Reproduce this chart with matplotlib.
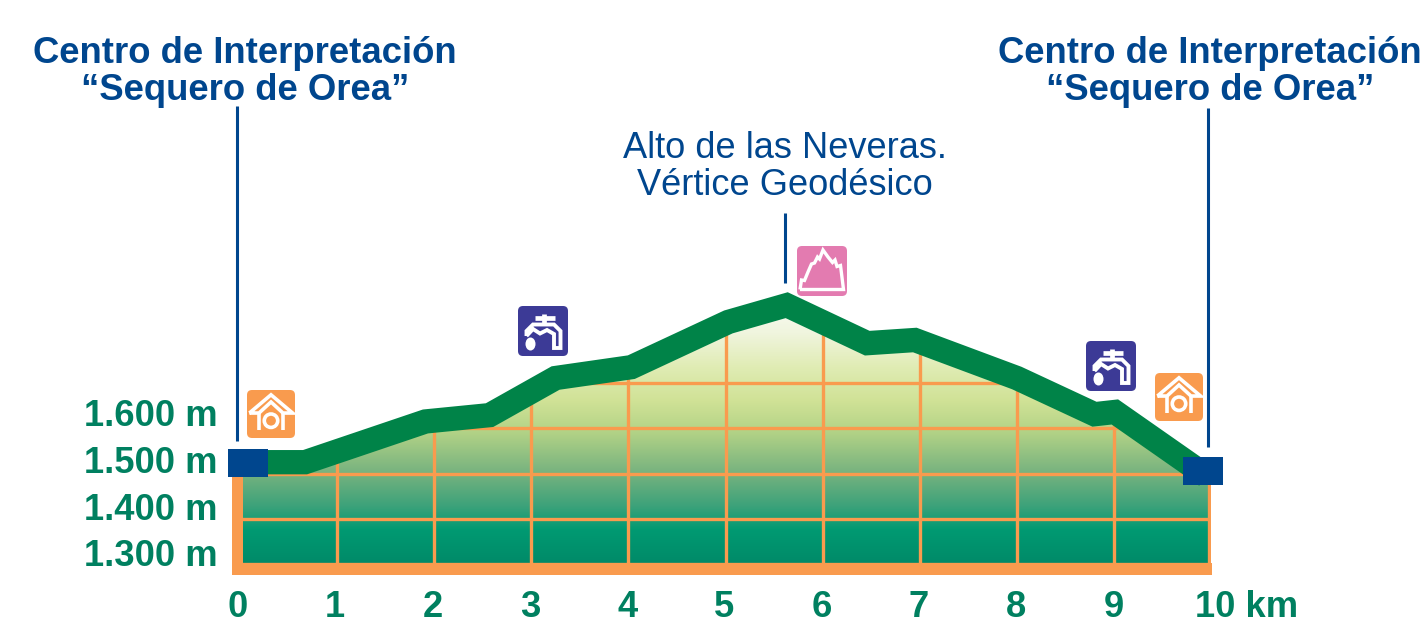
import numpy as np
import matplotlib
matplotlib.use("Agg")
import matplotlib.pyplot as plt
from matplotlib.colors import LinearSegmentedColormap
from matplotlib.patches import Circle, Ellipse, FancyBboxPatch, Polygon, Rectangle

plt.rcParams["font.family"] = ["Liberation Sans", "DejaVu Sans"]

# profile
profile_km = [0.0, 0.67, 1.91, 2.57, 3.25, 4.03, 5.03, 5.63, 6.46, 6.95, 8.0, 8.8, 9.01, 9.95]
profile_m = [1525, 1525, 1615, 1629, 1711, 1735, 1835, 1872, 1788, 1795, 1711, 1631, 1636, 1495]

km_ticks = [0, 1, 2, 3, 4, 5, 6, 7, 8, 9]
km_labels = ["0", "1", "2", "3", "4", "5", "6", "7", "8", "9"]
m_grid = [1300, 1400, 1500, 1600, 1700]
m_ticks = [1300, 1400, 1500, 1600]
m_labels = ["1.300 m", "1.400 m", "1.500 m", "1.600 m"]

start_name = "Centro de Interpretación\n“Sequero de Orea”"
peak_name = "Alto de las Neveras.\nVértice Geodésico"

BLUE = "#00468E"
GREEN = "#008348"
LABEL_GREEN = "#008060"
ORANGE = "#F99B4E"
VIOLET = "#3C3A96"
PINK = "#E37BB0"

PX_PER_KM = 97.1
PX_PER_M = 0.4525
X0, Y0 = 240, 564  # pixel of km 0 / 1300 m

fig = plt.figure(figsize=(14.28, 6.24), dpi=100)
ax = fig.add_axes([0, 0, 1, 1])
ax.set_axis_off()

# area under the profile, gradient clipped to it
area = list(zip(profile_km, profile_m)) + [(10, profile_m[-1]), (10, 1300), (0, 1300)]
clip = Polygon(area, transform=ax.transData, fc="none", ec="none")
ax.add_patch(clip)

stops = [
    (0.00, "#008A68"),
    (0.13, "#009A72"),
    (0.22, "#3DA27A"),
    (0.35, "#78B37F"),
    (0.50, "#B2D286"),
    (0.62, "#D0E296"),
    (0.75, "#E0ECB4"),
    (0.88, "#F0F5DE"),
    (1.00, "#FBFCF5"),
]
cmap = LinearSegmentedColormap.from_list("relief", stops)
im = ax.imshow(np.linspace(0, 1, 256).reshape(-1, 1), cmap=cmap, origin="lower", aspect="auto",
               extent=(0, 10, 1300, 1880), zorder=1)
im.set_clip_path(clip)

for km in km_ticks[1:] + [9.98]:
    ln = ax.plot([km, km], [1300, 1900], color=ORANGE, lw=2.4, zorder=2, solid_capstyle="butt")[0]
    ln.set_clip_path(clip)
for m in m_grid:
    ln = ax.plot([0, 10], [m, m], color=ORANGE, lw=2.4, zorder=2, solid_capstyle="butt")[0]
    ln.set_clip_path(clip)

ax.plot(profile_km, profile_m, color=GREEN, lw=17.5, zorder=3,
        solid_joinstyle="miter", solid_capstyle="butt")

ax.set_xlim(-X0 / PX_PER_KM, (1428 - X0) / PX_PER_KM)
ax.set_ylim(1300 - (624 - Y0) / PX_PER_M, 1300 + Y0 / PX_PER_M)

# overlay in pixels for the labels and pictograms
ov = fig.add_axes([0, 0, 1, 1])
ov.set_axis_off()
ov.set_xlim(0, 1428)
ov.set_ylim(624, 0)

# frame
ov.add_patch(Rectangle((232, 474), 11, 101, fc=ORANGE, ec="none", zorder=2))
ov.add_patch(Rectangle((232, 563), 980, 12, fc=ORANGE, ec="none", zorder=2))

# leaders
ov.plot([237, 237], [106, 441], color=BLUE, lw=2.2, solid_capstyle="butt")
ov.plot([1208, 1208], [108, 447], color=BLUE, lw=2.2, solid_capstyle="butt")
ov.plot([785, 785], [213, 283], color=BLUE, lw=2.2, solid_capstyle="butt")

# start and end squares
ov.add_patch(Rectangle((228, 449), 40, 28, fc=BLUE, ec="none", zorder=5))
ov.add_patch(Rectangle((1183, 457), 40, 28, fc=BLUE, ec="none", zorder=5))

# texts
ov.text(245, 72, start_name, color=BLUE, fontsize=26.3, fontweight="bold", ha="center", va="center",
        linespacing=1.07)
ov.text(1210, 72, start_name, color=BLUE, fontsize=26.3, fontweight="bold", ha="center", va="center",
        linespacing=1.07)
ov.text(785, 167, peak_name, color=BLUE, fontsize=26.1, ha="center", va="center", linespacing=1.095)

# the labels sit on their own spacing, a little off the grid
for km, lab in zip(km_ticks, km_labels):
    ov.text(238 + km * 97.3, 607.5, lab, color=LABEL_GREEN, fontsize=26.2, fontweight="bold", ha="center", va="center")
ov.text(1195, 607.5, "10 km", color=LABEL_GREEN, fontsize=26.2, fontweight="bold", ha="left", va="center")
for m, lab in zip(m_ticks, m_labels):
    ov.text(218, 557 - (m - 1300) * 0.467, lab, color=LABEL_GREEN, fontsize=26.2, fontweight="bold", ha="right", va="center")


def icon_box(x, y, size, color):
    ov.add_patch(FancyBboxPatch((x + 4, y + 4), size - 8, size - 8, boxstyle="round,pad=4,rounding_size=5",
                                fc=color, ec="none", zorder=4))


def stroke(x, y, size, pts, lw=2.6):
    xs = [x + p[0] * size for p in pts]
    ys = [y + p[1] * size for p in pts]
    ov.plot(xs, ys, color="white", lw=lw, zorder=5, solid_joinstyle="miter", solid_capstyle="butt")


def house_icon(x, y, size=48):
    icon_box(x, y, size, ORANGE)
    stroke(x, y, size, [(0.05, 0.48), (0.25, 0.48), (0.5, 0.25), (0.75, 0.48), (0.95, 0.48), (0.5, 0.1), (0.05, 0.48)])
    stroke(x, y, size, [(0.25, 0.48), (0.25, 0.84)])
    stroke(x, y, size, [(0.75, 0.48), (0.75, 0.84)])
    ov.add_patch(Circle((x + 0.5 * size, y + 0.64 * size), 0.14 * size, fc="none", ec="white", lw=2.6, zorder=5))


def tap_icon(x, y, size=50):
    icon_box(x, y, size, VIOLET)
    stroke(x, y, size, [(0.34, 0.23), (0.73, 0.23)], lw=3.4)
    stroke(x, y, size, [(0.52, 0.15), (0.52, 0.34)], lw=3.4)
    stroke(x, y, size, [(0.17, 0.6), (0.17, 0.5), (0.3, 0.37), (0.72, 0.37), (0.85, 0.5), (0.85, 0.84),
                        (0.72, 0.84), (0.72, 0.56), (0.58, 0.48), (0.44, 0.55), (0.3, 0.46), (0.17, 0.6)], lw=2.8)
    ov.add_patch(Ellipse((x + 0.25 * size, y + 0.76 * size), 0.2 * size, 0.26 * size, fc="white", ec="none", zorder=5))


def mountain_icon(x, y, size=50):
    icon_box(x, y, size, PINK)
    stroke(x, y, size, [(0.06, 0.87), (0.09, 0.68), (0.15, 0.69), (0.22, 0.52), (0.29, 0.36), (0.35, 0.34),
                        (0.41, 0.22), (0.45, 0.26), (0.52, 0.08), (0.62, 0.22), (0.71, 0.33), (0.76, 0.28),
                        (0.8, 0.41), (0.87, 0.39), (0.93, 0.87), (0.06, 0.87)], lw=2.4)


house_icon(247, 390)
house_icon(1155, 373)
tap_icon(518, 306)
tap_icon(1086, 341)
mountain_icon(797, 246)

fig.savefig("out.png", dpi=100)
